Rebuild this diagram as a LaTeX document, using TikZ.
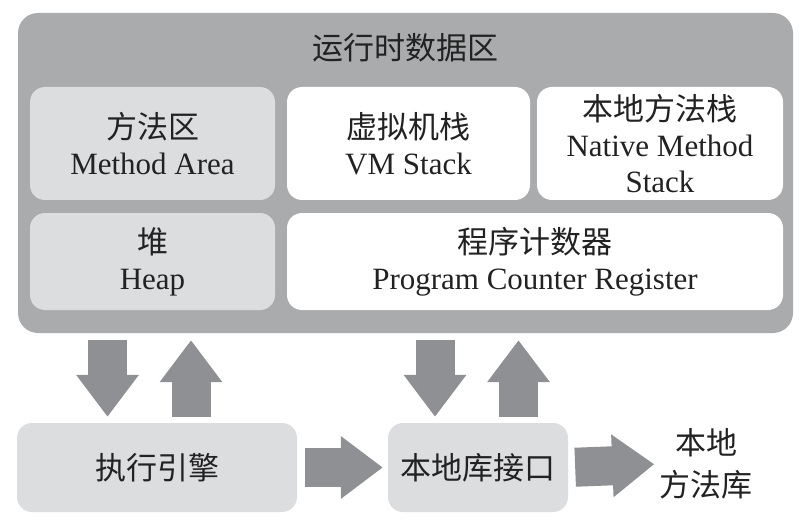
\documentclass[tikz,border=0pt]{standalone}
\usepackage{fontspec}
\setmainfont{Liberation Serif}
\newfontfamily\cjk{Noto Sans CJK SC}
\usetikzlibrary{arrows.meta}
\definecolor{areagray}{HTML}{A9ABAD}
\definecolor{boxgray}{HTML}{DCDDDF}
\definecolor{arrgray}{HTML}{8E9093}
\definecolor{txtgray}{HTML}{222222}

\begin{document}
\begin{tikzpicture}[x=1pt, y=-1pt,
    rdabox/.style={fill=areagray, rounded corners=20pt, minimum width=775pt, minimum height=320pt},
    memblk/.style={rounded corners=15pt, align=center, inner sep=0pt, text=txtgray, font=\fontsize{31}{36}\selectfont},
    lbox/.style={memblk, fill=boxgray},
    wbox/.style={memblk, fill=white},
    fatarr/.style={arrgray, line width=39pt, -{Triangle[length=42pt, width=60pt]}}
]
\fill[white] (0,0) rectangle (801,524);
\useasboundingbox (0,0) rectangle (801,524);

% runtime data area
\node[rdabox] (rda) at (405.5,173) {};
\node[memblk] (title) at (405,48) {\cjk 运行时数据区};
\node[lbox, minimum width=245pt, minimum height=113pt] (meth) at (152.5,143.5) {{\cjk 方法区}\\Method Area};
\node[wbox, minimum width=243pt, minimum height=113pt] (vms) at (408.5,143.5) {{\cjk 虚拟机栈}\\VM Stack};
\node[wbox, minimum width=246pt, minimum height=113pt] (nms) at (660,143.5) {{\cjk 本地方法栈}\\Native Method\\Stack};
\node[lbox, minimum width=245pt, minimum height=97pt] (heap) at (152.5,261.5) {{\cjk 堆}\\Heap};
\node[wbox, minimum width=496pt, minimum height=97pt] (pcr) at (535,261.5) {{\cjk 程序计数器}\\Program Counter Register};

% engine, native interface, native library
\node[lbox, minimum width=280pt, minimum height=89pt] (exe) at (157,467.5) {\cjk 执行引擎};
\node[lbox, minimum width=180pt, minimum height=89pt] (jni) at (478,467.5) {\cjk 本地库接口};
\node[memblk, font=\fontsize{31}{42}\selectfont] (lib) at (706,464) {\cjk 本地\\\cjk 方法库};

\draw[fatarr, shorten <=7pt, shorten >=6pt] ([xshift=-49.5pt]exe.north |- rda.south) -- ([xshift=-49.5pt]exe.north);
\draw[fatarr, shorten <=6pt, shorten >=7pt] ([xshift=34pt]exe.north) -- ([xshift=34pt]exe.north |- rda.south);
\draw[fatarr, shorten <=7pt, shorten >=6pt] ([xshift=-43pt]jni.north |- rda.south) -- ([xshift=-43pt]jni.north);
\draw[fatarr, shorten <=6pt, shorten >=7pt] ([xshift=40.5pt]jni.north) -- ([xshift=40.5pt]jni.north |- rda.south);
\draw[fatarr, shorten <=8pt, shorten >=5pt] (exe.east) -- (jni.west);
\draw[fatarr, shorten <=7pt, shorten >=5pt] (jni.east) -- (lib.west);
\end{tikzpicture}
\end{document}
